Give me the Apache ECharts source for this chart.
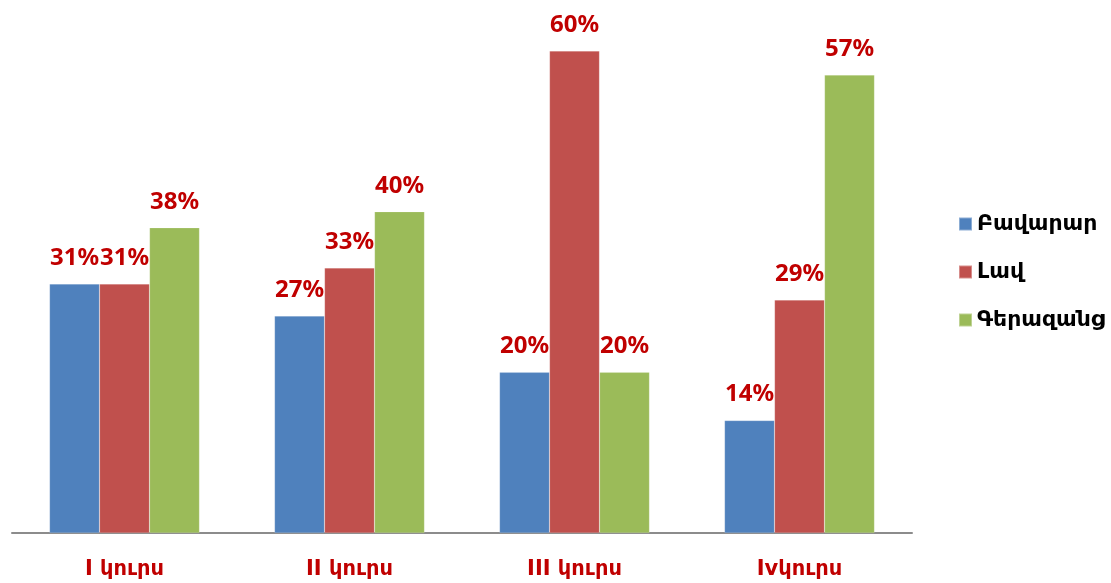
<!DOCTYPE html>
<html>
<head>
<meta charset="utf-8">
<script src="https://cdn.jsdelivr.net/npm/echarts@6/dist/echarts.min.js"></script>
<style>
html, body { margin: 0; padding: 0; background: #fff; }
#main { width: 1111px; height: 583px; }
</style>
</head>
<body>
<div id="main"></div>
<script>
var categories = ['I կուրս', 'II կուրս', 'III կուրս', 'Ivկուրս'];
var seriesNames = ['Բավարար', 'Լավ', 'Գերազանց'];
var bavarar = [31, 27, 20, 14];
var lav = [31, 33, 60, 29];
var gerazanc = [38, 40, 20, 57];
var colors = ['#4F81BD', '#C0504D', '#9BBB59'];

var chart = echarts.init(document.getElementById('main'));

function makeSeries(name, data, color) {
    return {
        name: name,
        type: 'bar',
        data: data,
        barWidth: 50,
        barGap: '0%',
        itemStyle: { color: color, borderColor: 'rgba(255,255,255,0.35)', borderWidth: 0.5 },
        label: {
            show: true,
            position: 'top',
            distance: 14,
            formatter: '{c}%',
            color: '#C00000',
            fontWeight: 'bold',
            fontSize: 24,
            fontFamily: 'Noto Sans, DejaVu Sans, sans-serif'
        }
    };
}

chart.setOption({
    animation: false,
    grid: { left: 12, right: 199, top: 51, bottom: 50 },
    legend: {
        orient: 'vertical',
        left: 953,
        top: 208,
        itemWidth: 13,
        itemHeight: 13,
        itemGap: 26,
        icon: 'rect',
        textStyle: { fontSize: 22, fontWeight: 'bold', color: '#000', fontFamily: 'DejaVu Sans, sans-serif' },
        data: seriesNames
    },
    xAxis: {
        type: 'category',
        data: categories,
        axisLine: { lineStyle: { color: '#8c8c8c', width: 2 } },
        axisTick: { show: false },
        axisLabel: {
            margin: 26,
            color: '#C00000',
            fontWeight: 'bold',
            fontSize: 21,
            fontFamily: 'DejaVu Sans, sans-serif'
        }
    },
    yAxis: {
        type: 'value',
        min: 0,
        max: 60,
        show: false,
        splitLine: { show: false }
    },
    series: [
        makeSeries(seriesNames[0], bavarar, colors[0]),
        makeSeries(seriesNames[1], lav, colors[1]),
        makeSeries(seriesNames[2], gerazanc, colors[2])
    ]
});
</script>
</body>
</html>
